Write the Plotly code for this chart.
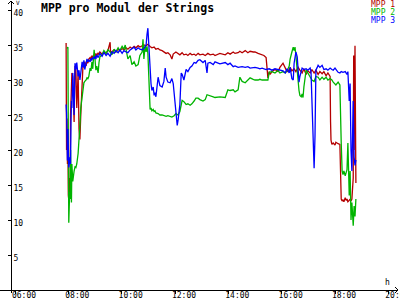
import plotly.graph_objects as go

DAY = "2024-06-01 "

# MPP 1 (red)
mpp1_t = ["07:55","07:56","07:57","07:58","07:59","08:00","08:01","08:03","08:04","08:05","08:06","08:07","08:08","08:10","08:13","08:15","08:17","08:19","08:22","08:24","08:26","08:28","08:31","08:33","08:35","08:37","08:40","08:42","08:44","08:46","08:49","08:51","08:53","08:55","08:58","09:00","09:02","09:04","09:07","09:09","09:11","09:16","09:20","09:25","09:29","09:34","09:35","09:38","09:43","09:47","09:52","09:56","10:01","10:05","10:10","10:14","10:19","10:23","10:28","10:32","10:37","10:41","10:46","10:50","10:55","10:59","11:04","11:08","11:13","11:17","11:22","11:26","11:31","11:35","11:40","11:44","11:49","11:53","11:56","12:02","12:07","12:11","12:16","12:20","12:25","12:29","12:34","12:38","12:43","12:47","12:52","12:56","13:03","13:08","13:14","13:19","13:26","13:30","13:41","13:53","13:59","14:04","14:11","14:15","14:22","14:26","14:31","14:38","14:44","14:49","14:56","15:00","15:07","15:11","15:16","15:20","15:25","15:27","15:29","15:32","15:34","15:38","15:45","15:52","15:56","16:03","16:08","16:12","16:17","16:19","16:23","16:28","16:32","16:37","16:41","16:46","16:50","16:55","16:59","17:04","17:08","17:13","17:17","17:22","17:26","17:31","17:35","17:40","17:44","17:49","17:50","17:51","17:53","17:56","18:00","18:02","18:07","18:11","18:14","18:16","18:18","18:20","18:23","18:25","18:27","18:29","18:32","18:34","18:36","18:38","18:41","18:42","18:43","18:45","18:47"]
mpp1_v = [35.3,20.0,24.5,18.0,22.0,13.5,12.9,16.0,14.0,25.0,29.5,27.0,31.0,30.5,24.0,32.0,31.5,26.0,31.0,23.0,21.5,25.0,30.5,32.2,31.8,32.6,32.0,32.8,32.4,33.0,33.2,32.8,33.5,33.2,33.6,33.3,33.8,33.5,33.9,33.6,34.0,33.7,34.0,33.8,34.2,35.4,33.9,34.1,34.3,34.0,34.4,34.2,34.5,34.3,34.6,34.4,34.7,34.5,34.8,34.6,34.9,34.7,34.9,35.0,34.9,35.1,34.8,34.6,34.7,34.4,34.5,34.3,34.2,34.0,33.8,33.9,33.6,33.0,33.7,34.0,33.8,33.6,33.9,33.6,33.7,33.5,33.8,33.6,33.7,33.5,33.8,33.6,33.7,33.5,33.8,33.6,33.7,33.5,33.8,33.6,33.9,33.7,34.0,33.8,33.9,34.1,33.9,34.2,33.9,34.1,34.0,34.0,33.8,33.7,33.6,33.5,33.2,31.0,30.3,31.2,30.8,31.2,31.5,31.2,31.8,32.4,31.6,31.2,31.5,31.8,31.3,31.6,31.2,31.8,31.4,31.0,31.6,30.8,31.3,31.0,31.5,31.0,31.4,30.8,31.2,30.9,31.2,30.6,31.0,30.5,24.0,21.4,20.8,21.0,20.7,21.1,20.9,20.8,13.0,12.7,12.9,12.6,13.2,12.8,13.0,12.6,12.8,13.0,12.7,13.0,16.0,33.5,20.0,34.9,15.3]

# MPP 2 (green)
mpp2_t = ["07:57","07:59","08:00","08:01","08:03","08:04","08:05","08:06","08:07","08:08","08:10","08:13","08:15","08:17","08:19","08:22","08:24","08:26","08:28","08:31","08:33","08:35","08:37","08:40","08:42","08:44","08:46","08:49","08:51","08:53","08:55","08:58","09:00","09:02","09:04","09:07","09:09","09:11","09:16","09:20","09:25","09:29","09:34","09:38","09:43","09:47","09:52","09:56","10:01","10:05","10:08","10:10","10:14","10:19","10:23","10:28","10:32","10:37","10:41","10:46","10:48","10:50","10:53","10:55","10:57","10:59","11:02","11:04","11:06","11:08","11:11","11:13","11:15","11:17","11:22","11:26","11:31","11:35","11:40","11:44","11:49","11:53","11:58","12:02","12:07","12:11","12:16","12:20","12:25","12:29","12:34","12:38","12:43","12:47","12:52","12:56","13:03","13:08","13:12","13:19","13:26","13:30","13:41","13:53","13:59","14:04","14:11","14:15","14:22","14:26","14:31","14:38","14:44","14:49","14:56","15:00","15:07","15:11","15:16","15:20","15:25","15:29","15:32","15:38","15:45","15:52","15:56","16:03","16:08","16:12","16:17","16:19","16:23","16:26","16:28","16:30","16:32","16:35","16:37","16:39","16:41","16:44","16:46","16:48","16:50","16:53","16:55","16:59","17:04","17:08","17:13","17:17","17:22","17:26","17:31","17:35","17:40","17:44","17:49","17:53","17:56","18:00","18:02","18:07","18:11","18:14","18:16","18:18","18:20","18:23","18:25","18:27","18:29","18:32","18:34","18:36","18:38","18:41","18:43","18:45","18:47"]
mpp2_v = [34.5,34.7,22.0,9.6,14.0,13.0,20.0,16.5,12.5,18.0,15.5,17.0,17.6,17.5,18.0,19.5,21.0,23.5,26.0,27.5,29.3,29.6,29.8,30.0,30.3,30.2,30.5,31.7,31.3,32.6,31.6,34.3,33.0,31.4,32.0,31.0,32.5,33.3,33.6,34.2,33.8,34.3,34.0,33.6,34.4,34.0,34.6,34.2,34.8,34.4,35.0,34.2,33.0,33.5,32.2,32.6,32.0,32.2,33.5,34.0,35.8,33.0,35.0,34.0,34.8,33.8,27.0,25.8,26.0,25.6,25.8,25.5,25.6,25.3,25.2,25.0,25.0,24.9,24.8,24.9,24.8,24.7,24.9,25.2,25.0,25.5,27.1,26.9,26.5,26.6,26.4,26.6,27.0,27.4,27.4,27.2,27.0,27.2,27.9,27.8,27.6,27.5,27.6,27.5,28.6,28.5,28.6,28.3,28.6,30.4,29.8,29.6,30.0,30.3,30.1,30.0,30.0,30.1,30.0,30.0,30.1,30.0,31.1,31.2,31.0,31.4,31.0,31.2,31.0,31.3,32.0,33.0,34.0,34.7,34.2,34.7,33.5,31.0,29.5,28.5,27.8,27.6,28.0,27.5,29.0,30.5,31.4,31.0,30.5,30.0,29.8,30.5,30.4,30.0,30.4,30.1,30.4,30.0,30.2,30.0,29.7,29.5,29.3,29.7,29.3,21.0,17.0,16.5,17.0,16.3,17.0,17.2,21.0,13.5,17.0,10.0,12.5,9.2,12.0,10.5,13.0]

# MPP 3 (blue)
mpp3_t = ["07:55","07:56","07:57","07:58","07:59","08:00","08:01","08:04","08:05","08:06","08:07","08:08","08:10","08:13","08:15","08:17","08:19","08:22","08:24","08:26","08:28","08:31","08:33","08:35","08:37","08:40","08:42","08:44","08:46","08:49","08:51","08:53","08:55","08:58","09:00","09:02","09:04","09:07","09:11","09:16","09:20","09:25","09:29","09:34","09:38","09:43","09:47","09:52","09:56","10:01","10:05","10:10","10:14","10:19","10:23","10:28","10:32","10:37","10:41","10:46","10:50","10:55","10:57","10:59","11:02","11:04","11:06","11:08","11:11","11:13","11:15","11:17","11:20","11:22","11:26","11:31","11:35","11:38","11:40","11:44","11:49","11:53","11:56","11:58","12:02","12:05","12:07","12:11","12:14","12:16","12:20","12:25","12:29","12:34","12:38","12:43","12:47","12:52","12:56","13:03","13:08","13:12","13:14","13:19","13:26","13:30","13:41","13:53","13:59","14:04","14:11","14:15","14:22","14:31","14:38","14:44","14:49","14:56","15:00","15:07","15:11","15:16","15:25","15:32","15:38","15:45","15:52","15:56","16:03","16:08","16:12","16:17","16:19","16:23","16:26","16:28","16:30","16:32","16:35","16:37","16:39","16:41","16:44","16:46","16:50","16:55","16:59","17:04","17:06","17:08","17:11","17:13","17:15","17:17","17:20","17:22","17:26","17:31","17:35","17:40","17:44","17:49","17:53","17:56","18:00","18:02","18:07","18:11","18:14","18:18","18:23","18:27","18:29","18:32","18:34","18:36","18:38","18:41","18:43","18:45","18:47"]
mpp3_v = [26.5,25.3,22.0,18.5,23.0,20.0,17.5,19.0,18.0,24.0,27.0,26.0,31.0,25.0,32.4,31.5,32.5,30.5,31.4,30.0,31.0,32.6,31.8,32.8,31.5,32.6,33.0,32.6,32.9,32.6,33.1,32.8,33.2,33.1,33.4,33.0,33.6,33.2,33.8,33.4,33.9,33.5,33.8,33.4,34.0,33.8,34.2,33.9,34.3,33.8,34.2,34.0,33.9,34.3,34.5,34.7,34.3,34.6,34.4,34.3,34.5,35.0,36.5,37.4,34.0,30.4,29.5,28.5,29.0,27.8,28.2,27.6,29.5,30.4,29.2,29.0,29.8,31.7,30.4,29.7,29.6,30.2,29.5,28.0,25.0,23.5,24.3,26.5,31.0,30.8,30.0,31.5,31.2,31.8,32.0,32.5,32.4,32.8,32.9,32.5,32.8,31.0,32.4,32.5,32.2,32.6,32.3,32.5,32.2,32.4,31.9,32.0,31.8,31.9,31.8,31.9,31.7,31.8,31.8,31.7,31.6,31.7,31.5,31.6,31.4,31.6,31.5,31.4,31.3,31.0,31.6,31.0,31.8,30.2,30.0,32.4,33.5,34.0,33.3,31.0,29.7,30.5,31.4,31.7,31.5,31.6,31.4,31.7,31.2,27.0,22.9,17.4,22.0,31.4,31.8,32.1,31.8,32.1,31.5,31.6,31.4,31.7,31.5,31.4,31.7,31.5,31.1,31.0,31.2,31.1,31.2,30.8,31.2,27.0,29.5,20.0,17.0,27.0,19.0,17.8,18.6]

series_names = ["MPP 1", "MPP 2", "MPP 3"]
series_colors = ["#b40000", "#00b400", "#0000ff"]
y_ticks = [5, 10, 15, 20, 25, 30, 35, 40]
x_ticks = ["06:00", "08:00", "10:00", "12:00", "14:00", "16:00", "18:00", "20:00"]

MONO = "DejaVu Sans Mono"
W, H = 400, 300
ML, MR, MT, MB = 0, 2, 1, 7
PW, PH = W - ML - MR, H - MT - MB

def px(x):  # pixel x -> paper
    return (x - ML) / PW

def py(y):  # pixel y -> paper
    return (H - MB - y) / PH

fig = go.Figure()
for t, v, name, col in zip([mpp1_t, mpp2_t, mpp3_t], [mpp1_v, mpp2_v, mpp3_v], series_names, series_colors):
    fig.add_trace(go.Scatter(x=[DAY + s for s in t], y=v, mode="lines", name=name,
                             line=dict(color=col, width=1.3), showlegend=False))

fig.update_layout(
    width=W, height=H, margin=dict(l=ML, r=MR, t=MT, b=MB, autoexpand=False),
    plot_bgcolor="white", paper_bgcolor="white",
    xaxis=dict(type="date", range=[DAY + "05:26:15", DAY + "20:21:45"], automargin=False,
               anchor="free", position=py(290), showline=True, linecolor="black", linewidth=1,
               ticks="outside", ticklen=3, tickcolor="black", tickwidth=1,
               tickvals=[DAY + s for s in x_ticks], ticktext=x_ticks,
               tickfont=dict(family=MONO, size=8, color="black"),
               ticklabelshift=9, ticklabeloverflow="allow", ticklabelstandoff=-6,
               showgrid=False, zeroline=False),
    yaxis=dict(range=[-3 / 7, 289 / 7], anchor="free", position=px(11), automargin=False,
               showline=True, linecolor="black", linewidth=1,
               ticks="outside", ticklen=3, tickcolor="black", tickwidth=1,
               tickvals=y_ticks, ticklabelposition="inside", ticklabeloverflow="allow",
               ticklabelshift=3,
               tickfont=dict(family=MONO, size=8, color="black"),
               showgrid=False, zeroline=False),
)

# axis arrowheads
fig.add_shape(type="path", xref="paper", yref="paper", xsizemode="pixel", ysizemode="pixel",
              xanchor=px(11), yanchor=py(1), path="M -3 -3 L 0 0 L 3 -3",
              line=dict(color="black", width=1))
fig.add_shape(type="path", xref="paper", yref="paper", xsizemode="pixel", ysizemode="pixel",
              xanchor=px(398), yanchor=py(290), path="M -3 3 L 0 0 L -3 -3",
              line=dict(color="black", width=1))

fig.add_annotation(text="V", xref="paper", yref="paper", x=px(15), y=py(2.5),
                   xanchor="left", yanchor="middle", borderpad=0,
                   showarrow=False, font=dict(family=MONO, size=6, color="black"))
fig.add_annotation(text="h", xref="paper", yref="paper", x=px(387), y=py(282),
                   xanchor="center", yanchor="middle",
                   showarrow=False, font=dict(family=MONO, size=8, color="black"))
fig.add_annotation(text="<b>MPP pro Modul der Strings</b>", xref="paper", yref="paper",
                   x=px(39), y=py(7.5), xanchor="left", yanchor="middle", showarrow=False,
                   font=dict(family=MONO, size=11.5, color="black"))
for i, (name, col) in enumerate(zip(series_names, series_colors)):
    fig.add_annotation(text=name, xref="paper", yref="paper", x=px(396), y=py(4.5 + 8 * i),
                       xanchor="right", yanchor="middle", showarrow=False, borderpad=0,
                       font=dict(family=MONO, size=8, color=col))

fig.write_html("out.html")
